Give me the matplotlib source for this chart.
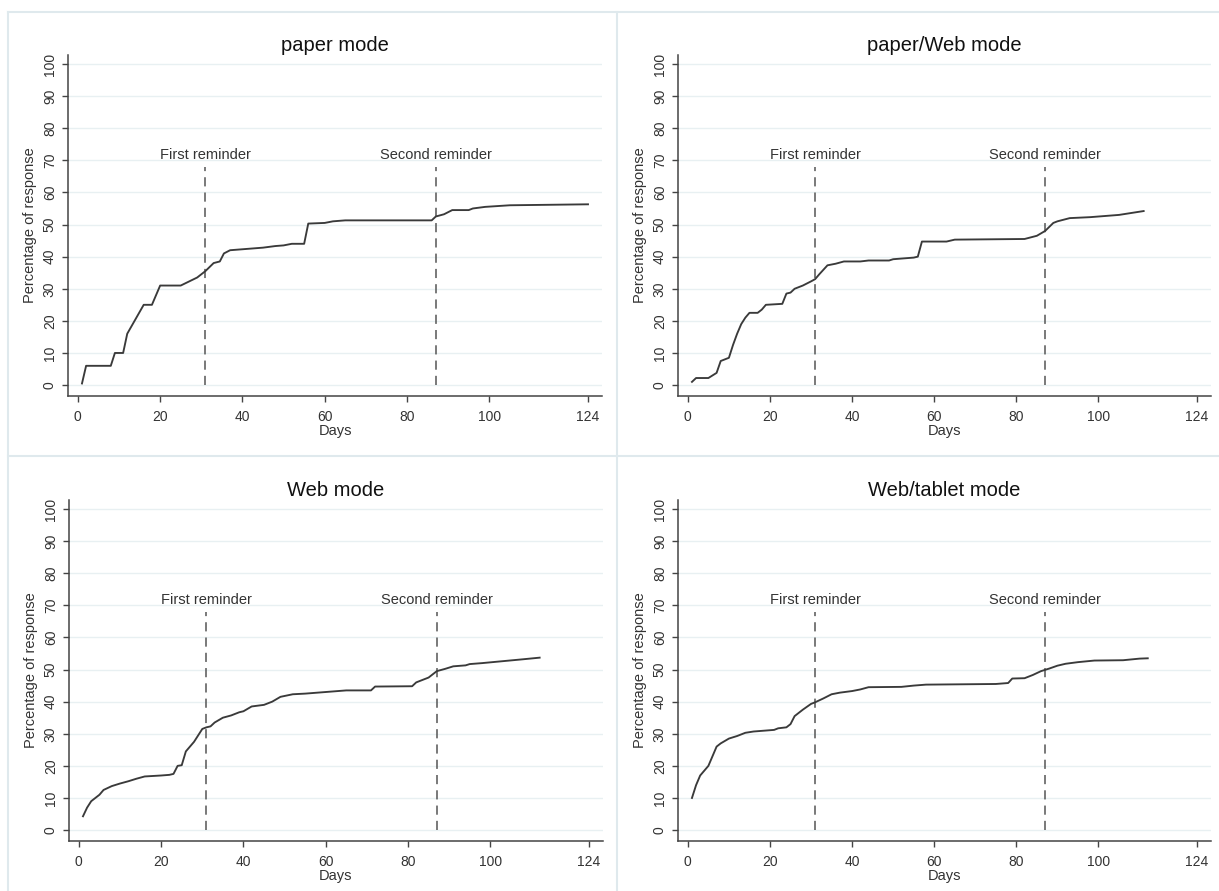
import matplotlib
matplotlib.use("Agg")
import matplotlib.pyplot as plt
from matplotlib.lines import Line2D

plt.rcParams['font.family'] = ['Liberation Sans', 'DejaVu Sans']

# ---------------- data ----------------
titles = ["paper mode", "paper/Web mode", "Web mode", "Web/tablet mode"]

paper_days = [1, 2, 8, 9, 11, 12, 14, 16, 18, 20, 25, 29, 31, 33, 34.5, 35.5, 37, 40, 45, 48,
              50, 52, 55, 56, 60, 62, 65, 86, 87, 89, 91, 95, 96, 99, 105, 124]
paper_vals = [0.5, 6, 6, 10, 10, 16, 20.5, 25, 25, 31, 31, 33.5, 35.5, 38, 38.5, 41, 42, 42.3, 42.8, 43.3,
              43.5, 44, 44, 50.3, 50.5, 51, 51.3, 51.3, 52.5, 53.2, 54.5, 54.5, 55, 55.5, 56, 56.3]

pw_days = [1, 2, 5, 6, 7, 8, 9, 10, 11, 12, 13, 14, 15, 17, 18, 19, 23, 24, 25, 26,
           28, 30, 31, 32, 34, 36, 38, 42, 44, 49, 50, 55, 56, 57, 63, 65, 82, 85, 87, 89,
           90, 93, 98, 105, 111]
pw_vals = [1, 2.2, 2.2, 3, 3.8, 7.5, 8, 8.5, 12.5, 16, 19, 21, 22.5, 22.5, 23.5, 25, 25.3, 28.5, 28.8, 30,
           31, 32.3, 33, 34.5, 37.3, 37.8, 38.5, 38.5, 38.8, 38.8, 39.2, 39.7, 40, 44.7, 44.7, 45.3, 45.5, 46.5, 48, 50.5,
           51, 52, 52.3, 53, 54.2]

web_days = [1, 2, 3, 4, 5, 6, 8, 10, 12, 14, 16, 20, 22, 23, 24, 25, 26, 28, 30, 31,
            32, 33, 35, 37, 39, 40, 42, 45, 47, 49, 52, 55, 60, 65, 71, 72, 81, 82, 85, 87,
            89, 91, 94, 95, 98, 103, 108, 112]
web_vals = [4.3, 7, 9, 10, 11, 12.5, 13.7, 14.5, 15.2, 16, 16.7, 17, 17.2, 17.5, 20, 20.2, 24.5, 27.5, 31.5, 32,
            32.3, 33.5, 35, 35.7, 36.7, 37, 38.5, 39, 40, 41.5, 42.3, 42.5, 43, 43.5, 43.5, 44.7, 44.8, 46, 47.5, 49.5,
            50.2, 51, 51.3, 51.7, 52, 52.6, 53.2, 53.7]

tab_days = [1, 2, 3, 4, 5, 6, 7, 8, 10, 12, 14, 16, 19, 21, 22, 24, 25, 26, 28, 30,
            31, 33, 35, 37, 40, 42, 44, 52, 55, 58, 75, 78, 79, 82, 84, 86, 88, 90, 92, 95,
            99, 106, 110, 112]
tab_vals = [10, 14, 17, 18.5, 20, 23, 26, 27, 28.5, 29.3, 30.3, 30.7, 31, 31.2, 31.7, 32, 33, 35.5, 37.5, 39.3,
            39.8, 41, 42.3, 42.8, 43.3, 43.8, 44.5, 44.6, 45, 45.3, 45.5, 45.8, 47.2, 47.3, 48.3, 49.5, 50.3, 51.2, 51.8, 52.3,
            52.8, 52.9, 53.4, 53.5]

series = [(paper_days, paper_vals), (pw_days, pw_vals), (web_days, web_vals), (tab_days, tab_vals)]

reminder_days = [31, 87]
reminder_labels = ["First reminder", "Second reminder"]
x_ticks = [0, 20, 40, 60, 80, 100, 124]
y_ticks = list(range(0, 101, 10))

# ---------------- layout ----------------
W, H = 1219, 891
fig = plt.figure(figsize=(W / 100, H / 100), dpi=100)
fig.patch.set_facecolor("white")

border = "#dfe9ed"
# panel frames
fig.add_artist(Line2D([8 / W, 8 / W], [0, 1 - 12 / H], transform=fig.transFigure, color=border, lw=1.5))
fig.add_artist(Line2D([8 / W, 1], [1 - 12 / H, 1 - 12 / H], transform=fig.transFigure, color=border, lw=1.5))
fig.add_artist(Line2D([617 / W, 617 / W], [0, 1 - 12 / H], transform=fig.transFigure, color=border, lw=1.5))
fig.add_artist(Line2D([8 / W, 1], [1 - 456 / H, 1 - 456 / H], transform=fig.transFigure, color=border, lw=1.5))

# axes pixel boxes: (left, right, top, bottom)
boxes = [(68, 602, 55, 396), (678, 1211, 55, 396), (69, 603, 500, 841), (678, 1211, 500, 841)]

dark = "#333333"
grid_c = "#e8f0f2"

for (l, r, t, b), title, (dx, dy) in zip(boxes, titles, series):
    ax = fig.add_axes([l / W, 1 - b / H, (r - l) / W, (b - t) / H])
    ax.set_xlim(-2.4, 127.4)
    ax.set_ylim(-3.4, 102.8)
    for s in ["top", "right"]:
        ax.spines[s].set_visible(False)
    for s in ["left", "bottom"]:
        ax.spines[s].set_color("#444444")
        ax.spines[s].set_linewidth(1.1)
    ax.set_xticks(x_ticks)
    ax.set_yticks(y_ticks)
    ax.set_yticklabels([str(v) for v in y_ticks], rotation=90, va="center")
    ax.tick_params(axis="both", colors="#444444", labelcolor=dark, labelsize=10,
                   length=4, width=1.0)
    ax.tick_params(axis="x", pad=6)
    ax.tick_params(axis="y", pad=4)
    for yv in y_ticks:
        ax.axhline(yv, color=grid_c, lw=1.0, zorder=0)
    for d, lab in zip(reminder_days, reminder_labels):
        ax.plot([d, d], [0, 68], color="#555555", lw=1.1, dashes=(6, 4))
        ax.text(d, 71.8, lab, ha="center", va="center", fontsize=10.5, color=dark)
    ax.plot(dx, dy, color="#3a3a3a", lw=1.35, solid_joinstyle="round")
    ax.set_title(title, fontsize=14.5, color="#111111", pad=3)
    ax.set_xlabel("Days", fontsize=10.5, color=dark, labelpad=0)
    ax.set_ylabel("Percentage of response", fontsize=10.5, color=dark, labelpad=4)

fig.savefig("out.png", dpi=100, facecolor="white")
